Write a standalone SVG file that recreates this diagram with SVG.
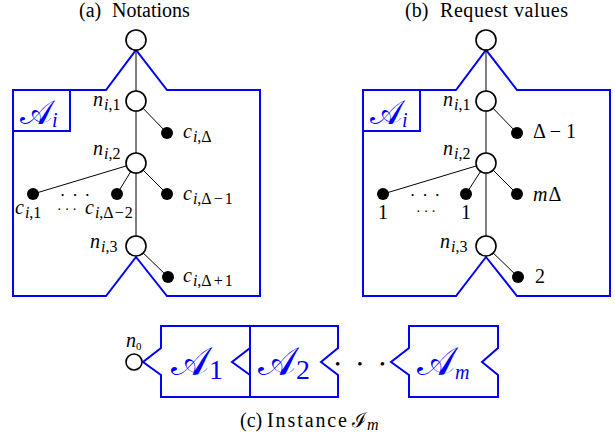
<svg xmlns="http://www.w3.org/2000/svg" width="615" height="440" viewBox="0 0 615 440">
<style>
.bl{fill:none;stroke:#0000ff;stroke-width:2;stroke-linejoin:miter}
.e{stroke:#000;stroke-width:1;fill:none}
.nd{fill:#fff;stroke:#000;stroke-width:1.6}
.lf{fill:#000}
.t{font-family:"Liberation Serif",serif;font-size:20px;fill:#000}
.m{font-family:"Liberation Serif",serif;font-size:20px;font-style:italic;fill:#000}
.u{font-style:normal}
.s{font-size:16px}
.cal{font-family:"DejaVu Serif","Noto Sans","DejaVu Sans",serif;fill:#0000ff;font-style:normal}
.dots{font-family:"Liberation Serif",serif;fill:#000}
</style>

<!-- titles -->
<text class="t" x="79" y="17">(a)<tspan x="112">Notations</tspan></text>
<text class="t" x="405" y="17">(b)<tspan x="440" textLength="128">Request values</tspan></text>
<text class="t" x="240" y="427" font-size="21">(c)<tspan x="267" textLength="80">Instance</tspan><tspan class="cal" style="fill:#000" x="352">ℐ</tspan><tspan class="m s" dy="3">m</tspan></text>

<!-- Panel (a) -->
<g id="a-block">
<path class="bl" d="M13,90 H106 L136,50 L167,90 H260 V296 H167 L136,257 L106,296 H13 Z"/>
<rect class="bl" x="13" y="90" width="57" height="41"/>
<text class="cal" x="20" y="124" font-size="34">𝒜<tspan class="m" style="fill:#0000ff" font-size="24" dy="3">i</tspan></text>
</g>
<g id="a-edges">
<line class="e" x1="136" y1="40" x2="136" y2="246"/>
<line class="e" x1="136" y1="101" x2="167" y2="133"/>
<line class="e" x1="136" y1="163" x2="33" y2="194"/>
<line class="e" x1="136" y1="163" x2="117" y2="194"/>
<line class="e" x1="136" y1="163" x2="167" y2="194"/>
<line class="e" x1="136" y1="246" x2="168" y2="277"/>
</g>
<g id="a-root"><circle class="nd" cx="136" cy="40" r="10"/></g>
<g id="a-n1"><circle class="nd" cx="136" cy="101" r="10"/>
<text class="m" x="93" y="106">n<tspan class="s" dx="1" dy="4">i</tspan><tspan class="s u">,1</tspan></text></g>
<g id="a-n2"><circle class="nd" cx="136" cy="163" r="10"/>
<text class="m" x="93" y="155">n<tspan class="s" dx="1" dy="4">i</tspan><tspan class="s u">,2</tspan></text></g>
<g id="a-n3"><circle class="nd" cx="136" cy="246" r="10"/>
<text class="m" x="90" y="248">n<tspan class="s" dx="1" dy="4">i</tspan><tspan class="s u">,3</tspan></text></g>
<g id="a-cD"><circle class="lf" cx="167" cy="133" r="6"/>
<text class="m" x="183" y="138">c<tspan class="s" dx="1" dy="4">i</tspan><tspan class="s u">,Δ</tspan></text></g>
<g id="a-c1"><circle class="lf" cx="33" cy="194" r="6"/>
<text class="m" x="15" y="214">c<tspan class="s" dx="1" dy="4">i</tspan><tspan class="s u">,1</tspan></text></g>
<g id="a-cD2"><circle class="lf" cx="117" cy="194" r="6"/>
<text class="m" x="85" y="214">c<tspan class="s" dx="1" dy="4">i</tspan><tspan class="s u">,Δ<tspan dx="1">−</tspan><tspan dx="1">2</tspan></tspan></text></g>
<g id="a-cD1"><circle class="lf" cx="167" cy="194" r="6"/>
<text class="m" x="183" y="200">c<tspan class="s" dx="1" dy="4">i</tspan><tspan class="s u">,Δ<tspan dx="2">−</tspan><tspan dx="2">1</tspan></tspan></text></g>
<g id="a-cD3"><circle class="lf" cx="168" cy="277" r="6"/>
<text class="m" x="183" y="282">c<tspan class="s" dx="1" dy="4">i</tspan><tspan class="s u">,Δ<tspan dx="2">+</tspan><tspan dx="2">1</tspan></tspan></text></g>
<text class="dots" x="61" y="198" font-size="9" textLength="28">• • •</text>
<text class="dots" x="57" y="214" font-size="14" textLength="20">· · ·</text>

<!-- Panel (b) -->
<g id="b-block">
<path class="bl" d="M363,90 H456 L486,50 L517,90 H610 V296 H517 L486,257 L456,296 H363 Z"/>
<rect class="bl" x="363" y="90" width="57" height="41"/>
<text class="cal" x="370" y="124" font-size="34">𝒜<tspan class="m" style="fill:#0000ff" font-size="24" dy="3">i</tspan></text>
</g>
<g id="b-edges">
<line class="e" x1="486" y1="40" x2="486" y2="246"/>
<line class="e" x1="486" y1="101" x2="517" y2="133"/>
<line class="e" x1="486" y1="163" x2="383" y2="194"/>
<line class="e" x1="486" y1="163" x2="466" y2="194"/>
<line class="e" x1="486" y1="163" x2="517" y2="194"/>
<line class="e" x1="486" y1="246" x2="518" y2="277"/>
</g>
<g id="b-root"><circle class="nd" cx="486" cy="40" r="10"/></g>
<g id="b-n1"><circle class="nd" cx="486" cy="101" r="10"/>
<text class="m" x="443" y="106">n<tspan class="s" dx="1" dy="4">i</tspan><tspan class="s u">,1</tspan></text></g>
<g id="b-n2"><circle class="nd" cx="486" cy="163" r="10"/>
<text class="m" x="443" y="155">n<tspan class="s" dx="1" dy="4">i</tspan><tspan class="s u">,2</tspan></text></g>
<g id="b-n3"><circle class="nd" cx="486" cy="246" r="10"/>
<text class="m" x="440" y="248">n<tspan class="s" dx="1" dy="4">i</tspan><tspan class="s u">,3</tspan></text></g>
<g id="b-cD"><circle class="lf" cx="517" cy="133" r="6"/>
<text class="t" x="533" y="138" font-size="21">Δ − 1</text></g>
<g id="b-c1"><circle class="lf" cx="383" cy="194" r="6"/>
<text class="t" x="383" y="219" text-anchor="middle" font-size="21">1</text></g>
<g id="b-cD2"><circle class="lf" cx="466" cy="194" r="6"/>
<text class="t" x="466" y="219" text-anchor="middle" font-size="21">1</text></g>
<g id="b-cD1"><circle class="lf" cx="517" cy="194" r="6"/>
<text class="m" x="533" y="201" font-size="21">m<tspan class="u" dx="1">Δ</tspan></text></g>
<g id="b-cD3"><circle class="lf" cx="518" cy="277" r="6"/>
<text class="t" x="535" y="283" font-size="21">2</text></g>
<text class="dots" x="411" y="198" font-size="9" textLength="28">• • •</text>
<text class="dots" x="416" y="216" font-size="14" textLength="20">· · ·</text>

<!-- Panel (c) -->
<g id="c-n0"><circle class="nd" cx="134" cy="362" r="8"/>
<text class="m" x="126" y="347" font-size="15">n<tspan class="u" font-size="11" dy="3">0</tspan></text></g>
<g id="c-A1">
<path class="bl" d="M161,326 H250 V397 H161 V375 L143,362 L161,348 Z"/>
<text class="cal" x="171" y="375" font-size="40">𝒜<tspan class="u" font-family="Liberation Serif" font-size="28" dy="4">1</tspan></text>
</g>
<g id="c-A2">
<path class="bl" d="M250,326 H338 V348 L321,362 L338,375 V397 H250 V375 L232,362 L250,348 Z"/>
<text class="cal" x="258" y="375" font-size="40">𝒜<tspan class="u" font-family="Liberation Serif" font-size="28" dy="4">2</tspan></text>
</g>
<text class="dots" x="335" y="369" font-size="15" textLength="50">• • •</text>
<g id="c-Am">
<path class="bl" d="M409,326 H498 V348 L482,362 L498,375 V397 H409 V375 L391,362 L409,348 Z"/>
<text class="cal" x="417" y="375" font-size="40">𝒜<tspan class="m" style="fill:#0000ff" font-size="28" dy="4">m</tspan></text>
</g>
</svg>
